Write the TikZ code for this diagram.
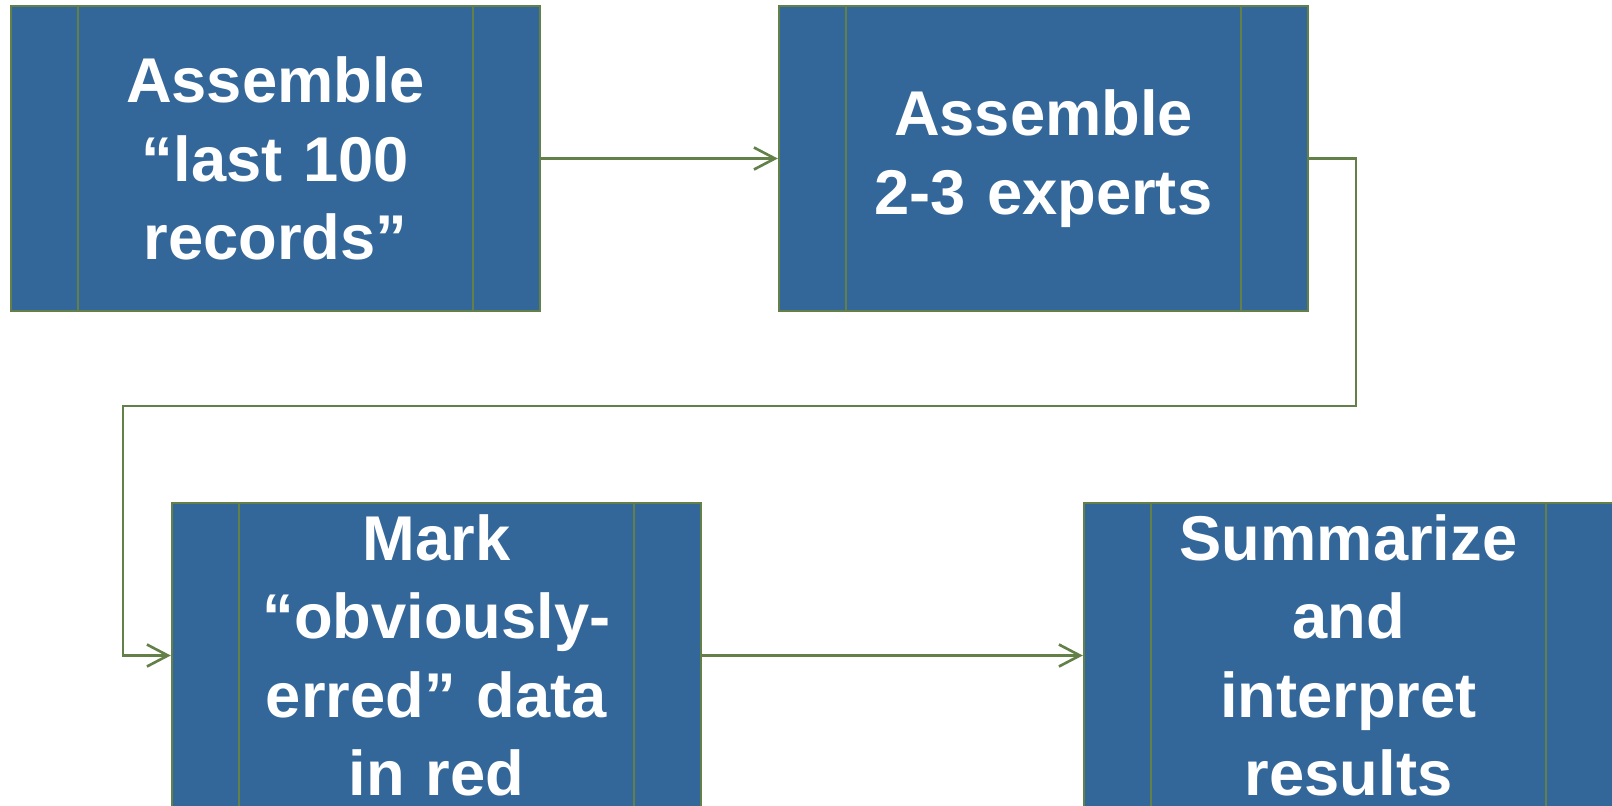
\documentclass[tikz,border=0pt]{standalone}
\usepackage{fontspec}
\setmainfont{Liberation Sans}
\usepackage{tikz}
\usetikzlibrary{arrows.meta}
\definecolor{stepblue}{RGB}{52,103,153}
\definecolor{stepgreen}{RGB}{98,128,72}

\begin{document}
\begin{tikzpicture}[
    stepbox/.style={rectangle, draw=stepgreen, line width=.7pt, fill=stepblue,
        minimum width=5.29cm, minimum height=3.05cm, inner sep=0pt,
        text width=3.95cm, align=center, text=white,
        font=\fontsize{18pt}{22.3pt}\selectfont\bfseries,
        path picture={
            \draw[stepgreen, line width=.7pt]
                ([xshift=.67cm]path picture bounding box.north west) -- ([xshift=.67cm]path picture bounding box.south west)
                ([xshift=-.67cm]path picture bounding box.north east) -- ([xshift=-.67cm]path picture bounding box.south east);
        }},
    flow/.style={draw=stepgreen, line width=.75pt, -{Straight Barb[length=2.1mm,width=2.2mm]}}
]
    \useasboundingbox (0,0) rectangle (16.12,-8.05);
    \node[stepbox] (rec) at (2.755,-1.585) {Assemble\\ “last 100\\ records”};
    \node[stepbox] (exp) at (10.435,-1.585) {Assemble\\ 2-3 experts};
    \node[stepbox] (mark) at (4.365,-6.555) {Mark\\ “obviously-\\ erred” data\\ in red};
    \node[stepbox] (sum) at (13.485,-6.555) {Summarize\\ and\\ interpret\\ results};
    %turn points of the long connector
    \coordinate (turnR) at (13.56,-4.06);
    \coordinate (turnL) at (1.23,-4.06);
    \draw[flow] (rec.east) -- (exp.west);
    \draw[flow] (exp.east) -| (turnR) -- (turnL) |- (mark.west);
    \draw[flow] (mark.east) -- (sum.west);
\end{tikzpicture}
\end{document}
